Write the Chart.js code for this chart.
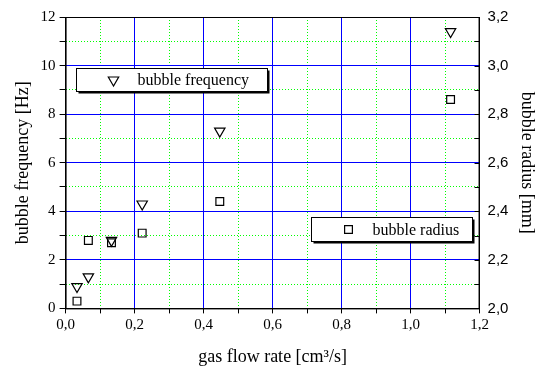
<!DOCTYPE html>
<html>
<head>
<meta charset="utf-8">
<script src="https://cdn.jsdelivr.net/npm/chart.js@4.4.1/dist/chart.umd.min.js"></script>
<style>
  html, body { margin: 0; padding: 0; background: #fff; }
  #wrap { width: 538px; height: 367px; }
</style>
</head>
<body>
<div id="wrap"><canvas id="bubbleChart" width="538" height="367"></canvas></div>
<script>
// measured points: gas flow rate [cm3/s] vs bubble frequency [Hz] and radius [mm]
const flowRate = [0.033, 0.066, 0.133, 0.222, 0.447, 1.116];
const bubbleFrequency = [0.9, 1.3, 2.8, 4.3, 7.3, 11.4];
const bubbleRadius = [2.03, 2.28, 2.27, 2.31, 2.44, 2.86];
const seriesNames = ['bubble frequency', 'bubble radius'];

const serif = 'Liberation Serif';
const sans = 'Liberation Sans';
const transparent = 'rgba(0,0,0,0)';

// every second tick of a 0.1 step axis is a labelled one
const evenTenth = v => Math.round(v * 10) % 2 === 0;
const evenUnit = v => Math.round(v) % 2 === 0;
const comma = v => v.toFixed(1).replace('.', ',');

// boxed legends inside the plot area, one per series (fractions of the chart area)
const legendBoxes = [
    { dataset: 0, left: 0.026, top: 0.174, right: 0.4875, bottom: 0.253 },
    { dataset: 1, left: 0.593, top: 0.687, right: 0.981, bottom: 0.767 }
];

const framePlugin = {
    id: 'framePlugin',
    afterDraw(chart) {
        const ctx = chart.ctx;
        const area = chart.chartArea;
        const w = area.right - area.left;
        const h = area.bottom - area.top;

        ctx.save();
        // plot frame
        ctx.strokeStyle = '#000';
        ctx.lineWidth = 1;
        ctx.strokeRect(area.left + 0.5, area.top + 0.5, w - 1, h);

        // inward ticks on the right axis
        const y1 = chart.scales.y1;
        ctx.beginPath();
        y1.ticks.forEach(t => {
            const py = Math.round(y1.getPixelForValue(t.value)) + 0.5;
            ctx.moveTo(area.right - 5, py);
            ctx.lineTo(area.right, py);
        });
        ctx.stroke();

        legendBoxes.forEach(b => {
            const x0 = Math.round(area.left + b.left * w) + 0.5;
            const x1 = Math.round(area.left + b.right * w) + 0.5;
            const y0 = Math.round(area.top + b.top * h) + 0.5;
            const yb = Math.round(area.top + b.bottom * h) + 0.5;
            // shadow
            ctx.fillStyle = '#000';
            ctx.fillRect(x0 + 2, y0 + 2, x1 - x0, yb - y0);
            ctx.fillStyle = '#fff';
            ctx.fillRect(x0, y0, x1 - x0, yb - y0);
            ctx.strokeStyle = '#000';
            ctx.lineWidth = 1;
            ctx.strokeRect(x0, y0, x1 - x0, yb - y0);

            const ds = chart.data.datasets[b.dataset];
            const cy = (y0 + yb) / 2;
            ctx.fillStyle = transparent;
            ctx.lineWidth = ds.borderWidth;
            Chart.helpers.drawPoint(ctx, {
                pointStyle: ds.pointStyle,
                rotation: ds.rotation || 0,
                radius: ds.pointRadius,
                borderWidth: ds.borderWidth
            }, x0 + 37, cy);

            ctx.fillStyle = '#000';
            ctx.font = '16px "' + serif + '"';
            ctx.textBaseline = 'middle';
            ctx.textAlign = 'left';
            ctx.fillText(ds.label, x0 + 61, cy + 1);
        });
        ctx.restore();
    }
};

const ctx = document.getElementById('bubbleChart').getContext('2d');

new Chart(ctx, {
    type: 'scatter',
    data: {
        datasets: [
            {
                label: seriesNames[0],
                data: flowRate.map((x, i) => ({ x: x, y: bubbleFrequency[i] })),
                yAxisID: 'y',
                pointStyle: 'triangle',
                rotation: 180,
                pointRadius: 6,
                borderColor: '#000',
                backgroundColor: transparent,
                borderWidth: 1.2
            },
            {
                label: seriesNames[1],
                data: flowRate.map((x, i) => ({ x: x, y: bubbleRadius[i] })),
                yAxisID: 'y1',
                pointStyle: 'rect',
                pointRadius: 5.5,
                borderColor: '#000',
                backgroundColor: transparent,
                borderWidth: 1.2
            }
        ]
    },
    options: {
        responsive: false,
        animation: false,
        layout: { padding: { top: 10, right: 0, bottom: -1, left: 12 } },
        plugins: {
            legend: { display: false },
            tooltip: { enabled: false }
        },
        scales: {
            x: {
                type: 'linear',
                position: 'bottom',
                min: 0,
                max: 1.2,
                ticks: {
                    stepSize: 0.1,
                    autoSkip: false,
                    maxRotation: 0,
                    padding: 3,
                    color: '#000',
                    font: { family: serif, size: 15 },
                    callback: v => evenTenth(v) ? comma(v) : ''
                },
                grid: {
                    color: c => c.tick && evenTenth(c.tick.value) ? '#0000ff' : transparent,
                    lineWidth: 1,
                    tickColor: '#000',
                    tickLength: 5
                },
                border: { color: '#000', width: 1 },
                title: {
                    display: true,
                    text: 'gas flow rate [cm³/s]',
                    color: '#000',
                    font: { family: serif, size: 18 },
                    padding: { top: 9, bottom: 0 }
                }
            },
            xMinor: {
                type: 'linear',
                position: 'bottom',
                min: 0,
                max: 1.2,
                ticks: { stepSize: 0.1, display: false },
                grid: {
                    color: c => c.tick && !evenTenth(c.tick.value) ? '#00ff00' : transparent,
                    drawTicks: false,
                    z: -2
                },
                border: { display: false, dash: [1, 2] }
            },
            y: {
                type: 'linear',
                position: 'left',
                min: 0,
                max: 12,
                ticks: {
                    stepSize: 1,
                    autoSkip: false,
                    padding: 4,
                    color: '#000',
                    font: { family: serif, size: 15 },
                    callback: v => evenUnit(v) ? String(v) : ''
                },
                grid: {
                    color: c => c.tick && evenUnit(c.tick.value) ? '#0000ff' : transparent,
                    lineWidth: 1,
                    tickColor: '#000',
                    tickLength: 6
                },
                border: { color: '#000', width: 1 },
                title: {
                    display: true,
                    text: 'bubble frequency [Hz]',
                    color: '#000',
                    font: { family: serif, size: 18 },
                    padding: { top: 0, bottom: 3 }
                }
            },
            yMinor: {
                type: 'linear',
                position: 'left',
                min: 0,
                max: 12,
                ticks: { stepSize: 1, display: false },
                grid: {
                    color: c => c.tick && !evenUnit(c.tick.value) ? '#00ff00' : transparent,
                    drawTicks: false,
                    z: -2
                },
                border: { display: false, dash: [1, 2] }
            },
            y1: {
                type: 'linear',
                position: 'right',
                min: 2.0,
                max: 3.2,
                ticks: {
                    stepSize: 0.1,
                    autoSkip: false,
                    padding: 8,
                    color: '#000',
                    font: { family: sans, size: 15 },
                    callback: v => evenTenth(v) ? comma(v) : ''
                },
                grid: { drawOnChartArea: false, drawTicks: false },
                border: { color: '#000', width: 1 },
                title: {
                    display: true,
                    text: 'bubble radius [mm]',
                    color: '#000',
                    font: { family: serif, size: 18 },
                    padding: { top: 0, bottom: 0 }
                }
            }
        }
    },
    plugins: [framePlugin]
});
</script>
</body>
</html>
